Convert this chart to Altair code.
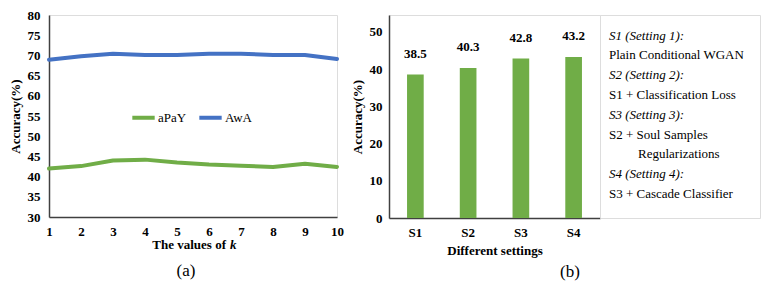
import altair as alt
import pandas as pd

# ---------------- data ----------------
k_values = [1, 2, 3, 4, 5, 6, 7, 8, 9, 10]
apay = [42.0, 42.6, 44.0, 44.2, 43.5, 43.0, 42.7, 42.4, 43.2, 42.4]
awa = [68.9, 69.8, 70.4, 70.1, 70.1, 70.4, 70.4, 70.1, 70.1, 69.1]
series_names = ["aPaY", "AwA"]

settings = ["S1", "S2", "S3", "S4"]
setting_acc = [38.5, 40.3, 42.8, 43.2]

legend_lines = [
    "S1 (Setting 1):",
    "Plain  Conditional WGAN",
    "S2 (Setting 2):",
    "S1 + Classification Loss",
    "S3 (Setting 3):",
    "S2 + Soul Samples",
    "Regularizations",
    "S4 (Setting 4):",
    "S3 + Cascade Classifier",
]
legend_italic = [True, False, True, False, True, False, False, True, False]
legend_indent = [0, 0, 0, 0, 0, 0, 1, 0, 0]

# ---------------- style ----------------
FONT = "Liberation Serif, Times New Roman, Times, serif"
GREEN = "#70AD47"
BLUE = "#4472C4"
FRAME = "#404040"

line_df = pd.DataFrame({
    "k": k_values * 2,
    "acc": apay + awa,
    "series": [series_names[0]] * len(k_values) + [series_names[1]] * len(k_values),
})
bar_df = pd.DataFrame({"setting": settings, "acc": setting_acc})
box_df = pd.DataFrame({
    "line": list(range(len(legend_lines))),
    "text": legend_lines,
    "italic": legend_italic,
    "indent": legend_indent,
})
one = pd.DataFrame({"a": [0]})

W1, H1 = 288, 202
W2, H2 = 211, 203
W3 = 160

# ---------------- panel (a) ----------------
lines = alt.Chart(line_df).mark_line(strokeWidth=4, strokeCap="round", strokeJoin="round").encode(
    x=alt.X("k:Q", scale=alt.Scale(domain=[1, 10], nice=False),
            axis=alt.Axis(values=k_values, title=None, ticks=False, grid=False,
                          labelFont=FONT, labelFontWeight="bold", labelFontSize=13,
                          labelColor="black", labelPadding=8, domainColor=FRAME,
                          domainWidth=1.5, labelFlush=False)),
    y=alt.Y("acc:Q", scale=alt.Scale(domain=[30, 80], nice=False),
            axis=alt.Axis(values=list(range(30, 81, 5)), title="Accuracy(%)", ticks=False,
                          grid=False, labelFont=FONT, labelFontWeight="bold",
                          labelFontSize=13, labelColor="black", labelPadding=9,
                          titleFont=FONT, titleFontWeight="bold", titleFontSize=13,
                          titleColor="black", titlePadding=5, domainColor=FRAME,
                          domainWidth=1.5, labelFlush=False)),
    color=alt.Color("series:N", sort=series_names,
                    scale=alt.Scale(domain=series_names, range=[GREEN, BLUE]),
                    legend=alt.Legend(orient="none", legendX=81, legendY=89,
                                      direction="horizontal", title=None,
                                      symbolType="stroke", symbolStrokeWidth=4,
                                      symbolSize=500, labelFont=FONT, labelFontSize=13,
                                      labelColor="black", columnPadding=4,
                                      labelOffset=1, symbolOffset=0)),
)

xt1 = alt.Chart(one).mark_text(font=FONT, fontSize=13, fontWeight="bold", align="right",
                               baseline="alphabetic", color="black").encode(
    x=alt.value(177), y=alt.value(234), text=alt.value("The values of"))
xt2 = alt.Chart(one).mark_text(font=FONT, fontSize=13, fontWeight="bold", fontStyle="italic",
                               align="left", baseline="alphabetic", color="black").encode(
    x=alt.value(181), y=alt.value(234), text=alt.value("k"))
cap_a = alt.Chart(one).mark_text(font=FONT, fontSize=17, align="center",
                                 baseline="alphabetic", color="black").encode(
    x=alt.value(137), y=alt.value(261), text=alt.value("(a)"))

panel_a = alt.layer(lines, xt1, xt2, cap_a).properties(width=W1, height=H1)

# ---------------- panel (b) ----------------
bars = alt.Chart(bar_df).mark_bar(color=GREEN).encode(
    x=alt.X("setting:N", sort=settings,
            scale=alt.Scale(paddingInner=0.684, paddingOuter=0.342),
            axis=alt.Axis(title="Different settings", labelAngle=0, ticks=False,
                          labelFont=FONT, labelFontWeight="bold", labelFontSize=13,
                          labelColor="black", labelPadding=8, titleFont=FONT,
                          titleFontWeight="bold", titleFontSize=13, titleColor="black",
                          titlePadding=5, domainColor=FRAME, domainWidth=1.5)),
    y=alt.Y("acc:Q", scale=alt.Scale(domain=[0, 54.5], nice=False),
            axis=alt.Axis(values=list(range(0, 51, 10)), title="Accuracy(%)", ticks=False,
                          grid=False, labelFont=FONT, labelFontWeight="bold",
                          labelFontSize=13, labelColor="black", labelPadding=7,
                          titleFont=FONT, titleFontWeight="bold", titleFontSize=13,
                          titleColor="black", titlePadding=5, domainColor=FRAME,
                          domainWidth=1.5, labelFlush=False)),
)
bar_labels = alt.Chart(bar_df).mark_text(font=FONT, fontSize=13, fontWeight="bold",
                                         dy=-21, color="black").encode(
    x=alt.X("setting:N", sort=settings),
    y="acc:Q",
    text=alt.Text("acc:Q", format=".1f"),
)
cap_b = alt.Chart(one).mark_text(font=FONT, fontSize=17, align="center",
                                 baseline="alphabetic", color="black").encode(
    x=alt.value(181), y=alt.value(262), text=alt.value("(b)"))

panel_b = alt.layer(bars, bar_labels, cap_b).properties(width=W2, height=H2)

# ---------------- text box ----------------
ypos = alt.Y("line:Q", scale=alt.Scale(domain=[0, 8], range=[20.7, 179]), axis=None)
xpos = alt.X("indent:Q", scale=alt.Scale(domain=[0, 1], range=[9, 38]), axis=None)
box_it = alt.Chart(box_df).transform_filter("datum.italic").mark_text(
    font=FONT, fontSize=13, fontStyle="italic", align="left", baseline="middle",
    color="black").encode(x=xpos, y=ypos, text="text:N")
box_rm = alt.Chart(box_df).transform_filter("!datum.italic").mark_text(
    font=FONT, fontSize=13, align="left", baseline="middle",
    color="black").encode(x=xpos, y=ypos, text="text:N")
panel_box = alt.layer(box_it, box_rm).properties(width=W3, height=H2)

right = alt.hconcat(panel_b, panel_box, spacing=0, bounds="flush")

chart = alt.hconcat(panel_a, right, spacing=52, bounds="flush").properties(
    padding=0
).configure_view(
    stroke=FRAME, strokeWidth=1.5
).configure(
    background="white"
)

chart.save("out.html", embed_options={"renderer": "svg", "actions": False})
